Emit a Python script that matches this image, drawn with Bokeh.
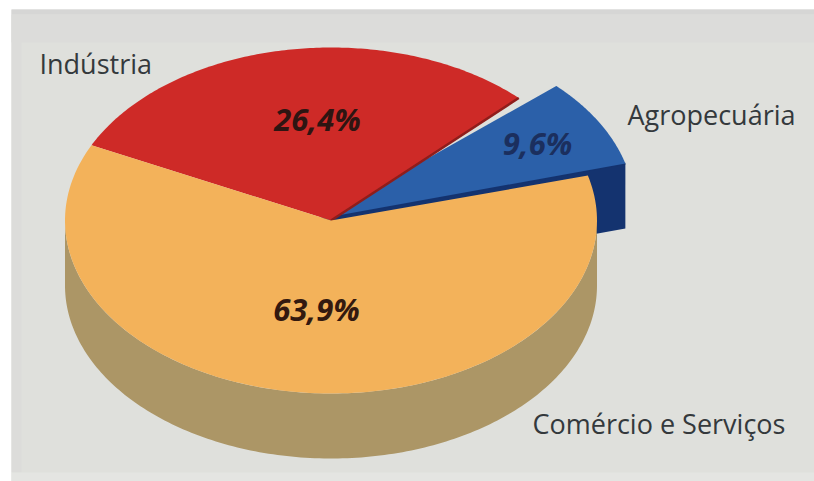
import numpy as np
from bokeh.plotting import figure
from bokeh.models import Range1d
from bokeh.core.properties import value
from bokeh.embed import file_html
from bokeh.resources import INLINE

# Data (share of total, % as printed on the chart), in drawing order from the right-hand edge
categories = ["Agropecuária", "Indústria", "Comércio e Serviços"]
shares = [9.6, 26.4, 63.9]
share_labels = ["9,6%", "26,4%", "63,9%"]

# Styling and geometry
top_colors = ["#2b60a9", "#ce2a27", "#f3b25a"]
side_colors = ["#14336f", "#8f1d1b", "#ac9666"]
text_colors = ["#1b2f5e", "#2e1512", "#33190f"]
CX, CY, RX, RY, DEPTH = 330.5, 220.0, 266.0, 173.0, 65.0
EXPLODE = [(37.5, -12.0), (0.0, 0.0), (0.0, 0.0)]
APEX = [(-10.0, -2.0), (0.0, 0.0), (0.0, 0.0)]   # where each slice's radial edges meet
ROTATION, SKEW, SKEW_PHASE = 26.2, 16.0, 135.9  # tilted-view foreshortening, degrees
LABEL_POS = [(627, 114), (39, 63), (532, 423)]
VALUE_POS = [(537, 142), (317, 118), (316, 308)]

W, H = 814, 481
p = figure(width=W, height=H, output_backend="svg", toolbar_location=None,
           x_range=Range1d(0, W), y_range=Range1d(H, 0),
           x_axis_location=None, y_axis_location=None, min_border=0)
p.grid.visible = False
p.outline_line_color = None
p.background_fill_color = "white"
p.border_fill_color = "white"

# Panel with its soft shaded edges
p.quad(left=[11], right=[W], top=[9], bottom=[H], fill_color="#dfe0dc", line_color=None)
p.quad(left=[11], right=[W], top=[9], bottom=[14], fill_color="#d6d6d5", line_color=None)
p.quad(left=[11], right=[W], top=[14], bottom=[42], fill_color="#dcdcda", line_color=None)
p.quad(left=[11], right=[21], top=[14], bottom=[472], fill_color="#dcdcda", line_color=None)
p.quad(left=[11], right=[W], top=[472], bottom=[H], fill_color="#e4e5e2", line_color=None)


def view_angle(theta):
    """Angle on the drawn ellipse for a true pie angle (degrees)."""
    return theta + ROTATION + SKEW * np.sin(np.radians(theta - SKEW_PHASE))


def rim(t, dx=0.0, dy=0.0):
    a = np.radians(t)
    return CX + dx + RX * np.cos(a), CY + dy - RY * np.sin(a)


total = sum(shares)
edges = np.concatenate([[0.0], np.cumsum(shares) / total * 360.0])
spans = [(view_angle(edges[i]), view_angle(edges[i + 1])) for i in range(len(shares))]


def top_face(i):
    t0, t1 = spans[i]
    dx, dy = EXPLODE[i]
    ax, ay = APEX[i]
    ts = np.linspace(t0, t1, 160)
    xs, ys = rim(ts, dx, dy)
    return [CX + ax, *xs], [CY + ay, *ys]


def outer_wall(i):
    # only the front half of a rim faces the viewer
    t0, t1 = spans[i]
    dx, dy = EXPLODE[i]
    lo, hi = max(t0, 180.0), min(t1, 360.0)
    if hi <= lo:
        return None
    ts = np.linspace(lo, hi, 180)
    xs, ys = rim(ts, dx, dy)
    return [*xs, *xs[::-1]], [*ys, *(ys[::-1] + DEPTH)]


def cut_wall(i):
    # radial cut at the slice's start, extruded downwards
    t0, _ = spans[i]
    dx, dy = EXPLODE[i]
    ex, ey = rim(t0, dx, dy)
    ax, ay = CX + APEX[i][0], CY + APEX[i][1]
    return [ax, ex, ex, ax], [ay, ey, ey + DEPTH, ay + DEPTH]


# Exploded slice (sits behind its neighbours)
xs, ys = cut_wall(0)
p.patch(xs, ys, fill_color=side_colors[0], line_color=None)
ex, ey = rim(spans[0][0], *EXPLODE[0])
p.line([CX + APEX[0][0], ex], [CY + APEX[0][1], ey], line_color=side_colors[0], line_width=2)
xs, ys = top_face(0)
p.patch(xs, ys, fill_color=top_colors[0], line_color=None)
# Back slice
xs, ys = top_face(1)
p.patch(xs, ys, fill_color=top_colors[1], line_color=None)
# Dark seam along the red slice's lower radial edge
ex, ey = rim(spans[1][0])
p.line([CX, ex], [CY, ey], line_color=side_colors[1], line_width=2.5)
# Main slice
xs, ys = outer_wall(2)
p.patch(xs, ys, fill_color=side_colors[2], line_color=None)
xs, ys = top_face(2)
p.patch(xs, ys, fill_color=top_colors[2], line_color=None)

# Labels
for name, (x, y) in zip(categories, LABEL_POS):
    p.text([x], [y], text=[name], text_font=value("Open Sans"), text_font_size="27px",
           text_color="#34393c", text_align="left", text_baseline="middle")
for lab, (x, y), c in zip(share_labels, VALUE_POS, text_colors):
    p.text([x], [y], text=[lab], text_font=value("Open Sans"), text_font_size="31px",
           text_font_style="bold italic", text_color=c, text_align="center", text_baseline="middle")

open("out.html", "w").write(file_html(p, INLINE))
